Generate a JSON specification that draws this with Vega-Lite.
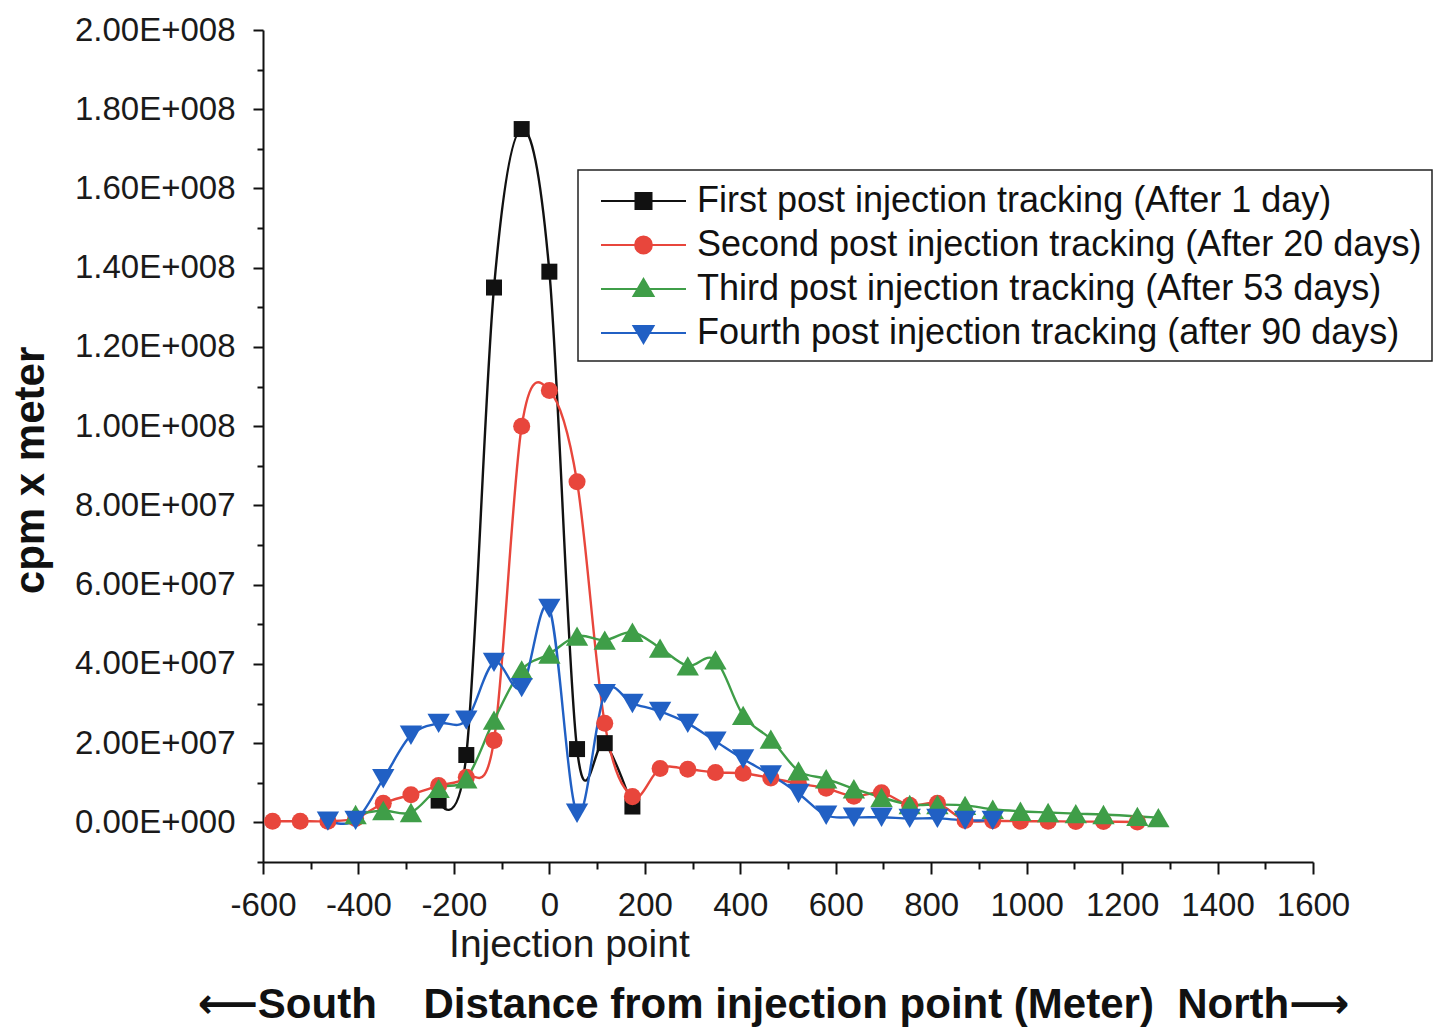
{
  "$schema": "https://vega.github.io/schema/vega-lite/v6.json",
  "width": 1050,
  "height": 832,
  "autosize": {"type": "none"},
  "padding": {"left": 263, "top": 30, "right": 127, "bottom": 169},
  "background": "white",
  "config": {
    "view": {"stroke": null},
    "font": "Liberation Sans",
    "axis": {"domainColor": "#111", "tickColor": "#111", "labelColor": "#1a1a1a", "grid": false, "domainWidth": 2, "tickWidth": 2, "labelFont": "Liberation Sans", "titleFont": "Liberation Sans, DejaVu Sans", "titleColor": "#111"}
  },
  "datasets": {
    "obs": [
      {"series": "First post injection tracking (After 1 day)", "d": -232, "v": 5500000},
      {"series": "First post injection tracking (After 1 day)", "d": -174, "v": 17000000},
      {"series": "First post injection tracking (After 1 day)", "d": -116, "v": 135000000},
      {"series": "First post injection tracking (After 1 day)", "d": -58, "v": 175000000},
      {"series": "First post injection tracking (After 1 day)", "d": 0, "v": 139000000},
      {"series": "First post injection tracking (After 1 day)", "d": 58, "v": 18500000},
      {"series": "First post injection tracking (After 1 day)", "d": 116, "v": 20000000},
      {"series": "First post injection tracking (After 1 day)", "d": 174, "v": 4000000},

      {"series": "Second post injection tracking (After 20 days)", "d": -580, "v": 300000},
      {"series": "Second post injection tracking (After 20 days)", "d": -522, "v": 300000},
      {"series": "Second post injection tracking (After 20 days)", "d": -464, "v": 300000},
      {"series": "Second post injection tracking (After 20 days)", "d": -406, "v": 1000000},
      {"series": "Second post injection tracking (After 20 days)", "d": -348, "v": 4800000},
      {"series": "Second post injection tracking (After 20 days)", "d": -290, "v": 7000000},
      {"series": "Second post injection tracking (After 20 days)", "d": -232, "v": 9300000},
      {"series": "Second post injection tracking (After 20 days)", "d": -174, "v": 11400000},
      {"series": "Second post injection tracking (After 20 days)", "d": -116, "v": 20700000},
      {"series": "Second post injection tracking (After 20 days)", "d": -58, "v": 100000000},
      {"series": "Second post injection tracking (After 20 days)", "d": 0, "v": 109000000},
      {"series": "Second post injection tracking (After 20 days)", "d": 58, "v": 86000000},
      {"series": "Second post injection tracking (After 20 days)", "d": 116, "v": 25000000},
      {"series": "Second post injection tracking (After 20 days)", "d": 174, "v": 6500000},
      {"series": "Second post injection tracking (After 20 days)", "d": 232, "v": 13600000},
      {"series": "Second post injection tracking (After 20 days)", "d": 290, "v": 13400000},
      {"series": "Second post injection tracking (After 20 days)", "d": 348, "v": 12600000},
      {"series": "Second post injection tracking (After 20 days)", "d": 406, "v": 12400000},
      {"series": "Second post injection tracking (After 20 days)", "d": 464, "v": 11200000},
      {"series": "Second post injection tracking (After 20 days)", "d": 522, "v": 9800000},
      {"series": "Second post injection tracking (After 20 days)", "d": 580, "v": 8600000},
      {"series": "Second post injection tracking (After 20 days)", "d": 638, "v": 6600000},
      {"series": "Second post injection tracking (After 20 days)", "d": 696, "v": 7500000},
      {"series": "Second post injection tracking (After 20 days)", "d": 755, "v": 4300000},
      {"series": "Second post injection tracking (After 20 days)", "d": 813, "v": 4800000},
      {"series": "Second post injection tracking (After 20 days)", "d": 871, "v": 500000},
      {"series": "Second post injection tracking (After 20 days)", "d": 929, "v": 400000},
      {"series": "Second post injection tracking (After 20 days)", "d": 987, "v": 300000},
      {"series": "Second post injection tracking (After 20 days)", "d": 1045, "v": 300000},
      {"series": "Second post injection tracking (After 20 days)", "d": 1103, "v": 200000},
      {"series": "Second post injection tracking (After 20 days)", "d": 1161, "v": 200000},
      {"series": "Second post injection tracking (After 20 days)", "d": 1232, "v": 100000},

      {"series": "Third post injection tracking (After 53 days)", "d": -406, "v": 2000000},
      {"series": "Third post injection tracking (After 53 days)", "d": -348, "v": 3000000},
      {"series": "Third post injection tracking (After 53 days)", "d": -290, "v": 2500000},
      {"series": "Third post injection tracking (After 53 days)", "d": -232, "v": 8600000},
      {"series": "Third post injection tracking (After 53 days)", "d": -174, "v": 11000000},
      {"series": "Third post injection tracking (After 53 days)", "d": -116, "v": 25800000},
      {"series": "Third post injection tracking (After 53 days)", "d": -58, "v": 38500000},
      {"series": "Third post injection tracking (After 53 days)", "d": 0, "v": 42500000},
      {"series": "Third post injection tracking (After 53 days)", "d": 58, "v": 47000000},
      {"series": "Third post injection tracking (After 53 days)", "d": 116, "v": 46000000},
      {"series": "Third post injection tracking (After 53 days)", "d": 174, "v": 48000000},
      {"series": "Third post injection tracking (After 53 days)", "d": 232, "v": 44000000},
      {"series": "Third post injection tracking (After 53 days)", "d": 290, "v": 39500000},
      {"series": "Third post injection tracking (After 53 days)", "d": 348, "v": 41000000},
      {"series": "Third post injection tracking (After 53 days)", "d": 406, "v": 27000000},
      {"series": "Third post injection tracking (After 53 days)", "d": 464, "v": 21000000},
      {"series": "Third post injection tracking (After 53 days)", "d": 522, "v": 13000000},
      {"series": "Third post injection tracking (After 53 days)", "d": 580, "v": 11000000},
      {"series": "Third post injection tracking (After 53 days)", "d": 638, "v": 8500000},
      {"series": "Third post injection tracking (After 53 days)", "d": 696, "v": 6300000},
      {"series": "Third post injection tracking (After 53 days)", "d": 755, "v": 4500000},
      {"series": "Third post injection tracking (After 53 days)", "d": 813, "v": 4500000},
      {"series": "Third post injection tracking (After 53 days)", "d": 871, "v": 4300000},
      {"series": "Third post injection tracking (After 53 days)", "d": 929, "v": 3300000},
      {"series": "Third post injection tracking (After 53 days)", "d": 987, "v": 2800000},
      {"series": "Third post injection tracking (After 53 days)", "d": 1045, "v": 2500000},
      {"series": "Third post injection tracking (After 53 days)", "d": 1103, "v": 2200000},
      {"series": "Third post injection tracking (After 53 days)", "d": 1161, "v": 2000000},
      {"series": "Third post injection tracking (After 53 days)", "d": 1232, "v": 1500000},
      {"series": "Third post injection tracking (After 53 days)", "d": 1276, "v": 1200000},

      {"series": "Fourth post injection tracking (after 90 days)", "d": -464, "v": 300000},
      {"series": "Fourth post injection tracking (after 90 days)", "d": -406, "v": 500000},
      {"series": "Fourth post injection tracking (after 90 days)", "d": -348, "v": 11000000},
      {"series": "Fourth post injection tracking (after 90 days)", "d": -290, "v": 22000000},
      {"series": "Fourth post injection tracking (after 90 days)", "d": -232, "v": 25000000},
      {"series": "Fourth post injection tracking (after 90 days)", "d": -174, "v": 25800000},
      {"series": "Fourth post injection tracking (after 90 days)", "d": -116, "v": 40400000},
      {"series": "Fourth post injection tracking (after 90 days)", "d": -58, "v": 34000000},
      {"series": "Fourth post injection tracking (after 90 days)", "d": 0, "v": 54000000},
      {"series": "Fourth post injection tracking (after 90 days)", "d": 58, "v": 2300000},
      {"series": "Fourth post injection tracking (after 90 days)", "d": 116, "v": 32500000},
      {"series": "Fourth post injection tracking (after 90 days)", "d": 174, "v": 30000000},
      {"series": "Fourth post injection tracking (after 90 days)", "d": 232, "v": 28000000},
      {"series": "Fourth post injection tracking (after 90 days)", "d": 290, "v": 25000000},
      {"series": "Fourth post injection tracking (after 90 days)", "d": 348, "v": 20500000},
      {"series": "Fourth post injection tracking (after 90 days)", "d": 406, "v": 16000000},
      {"series": "Fourth post injection tracking (after 90 days)", "d": 464, "v": 12000000},
      {"series": "Fourth post injection tracking (after 90 days)", "d": 522, "v": 7300000},
      {"series": "Fourth post injection tracking (after 90 days)", "d": 580, "v": 1800000},
      {"series": "Fourth post injection tracking (after 90 days)", "d": 638, "v": 1300000},
      {"series": "Fourth post injection tracking (after 90 days)", "d": 696, "v": 1300000},
      {"series": "Fourth post injection tracking (after 90 days)", "d": 755, "v": 1000000},
      {"series": "Fourth post injection tracking (after 90 days)", "d": 813, "v": 1000000},
      {"series": "Fourth post injection tracking (after 90 days)", "d": 871, "v": 500000},
      {"series": "Fourth post injection tracking (after 90 days)", "d": 929, "v": 500000}
    ]
  },
  "data": {"name": "obs"},
  "layer": [
    {
      "mark": {"type": "line", "interpolate": "cardinal", "strokeWidth": 2.4},
      "encoding": {
        "x": {"field": "d", "type": "quantitative", "scale": {"domain": [-600, 1600], "nice": false, "zero": false},
          "axis": {"orient": "bottom", "values": [-600, -400, -200, 0, 200, 400, 600, 800, 1000, 1200, 1400, 1600], "labelExpr": "datum.value + ''", "tickSize": 12, "labelFontSize": 33, "labelPadding": 15, "labelFlush": false,
            "title": "\u27f5South\u00a0\u00a0\u00a0\u00a0Distance from injection point (Meter)\u00a0\u00a0North\u27f6", "titleFontSize": 42, "titleFontWeight": "bold", "titleX": 510, "titleY": 122, "titleBaseline": "top"}},
        "y": {"field": "v", "type": "quantitative", "scale": {"domain": [-10000000, 200000000], "nice": false, "zero": false},
          "axis": {"orient": "left", "values": [0, 20000000, 40000000, 60000000, 80000000, 100000000, 120000000, 140000000, 160000000, 180000000, 200000000], "tickSize": 10, "labelFontSize": 33, "labelPadding": 18,
            "labelExpr": "datum.value == 0 ? '0.00E+000' : format(datum.value / pow(10, floor(log(datum.value)/LN10 + 1e-6)), '.2f') + 'E+00' + floor(log(datum.value)/LN10 + 1e-6)",
            "title": "cpm x meter", "titleFontSize": 42, "titleFontWeight": "bold", "titlePadding": 22, "titleY": 440}},
        "color": {"field": "series", "type": "nominal", "scale": {"domain": ["First post injection tracking (After 1 day)", "Second post injection tracking (After 20 days)", "Third post injection tracking (After 53 days)", "Fourth post injection tracking (after 90 days)"], "range": ["#111111", "#e8463c", "#3f9e48", "#2160c4"]},
          "legend": {"title": null, "orient": "none", "legendX": 315, "legendY": 140, "strokeColor": "#222", "fillColor": "white", "padding": 10,
            "labelFont": "Liberation Sans", "labelFontSize": 36, "labelColor": "#111", "labelLimit": 1200, "labelOffset": 67, "symbolSize": 1600, "rowPadding": 5,
            "encode": {
              "legend": {"update": {"strokeWidth": {"value": 1.5}}},
              "symbols": {"update": {
              "shape": {"signal": "indexof(datum.value,'First')==0 ? 'M-0.4,0H3.85M1.325,-0.4H2.125V0.4H1.325Z' : indexof(datum.value,'Second')==0 ? 'M-0.4,0H3.85M2.145,0A0.42,0.42,0,1,1,1.305,0A0.42,0.42,0,1,1,2.145,0Z' : indexof(datum.value,'Third')==0 ? 'M-0.4,0H3.85M1.725,-0.5L2.225,0.35L1.225,0.35Z' : 'M-0.4,0H3.85M1.725,0.5L2.225,-0.35L1.225,-0.35Z'"},
              "stroke": {"signal": "scale('color', datum.value)"},
              "fill": {"signal": "scale('color', datum.value)"},
              "strokeWidth": {"value": 2},
              "size": {"value": 1600},
              "opacity": {"value": 1}
            }}}}}
      }
    },
    {
      "transform": [{"filter": {"field": "series", "equal": "First post injection tracking (After 1 day)"}}],
      "mark": {"type": "point", "shape": "square", "filled": true, "opacity": 1, "size": 256, "color": "#111111"},
      "encoding": {
        "x": {"field": "d", "type": "quantitative", "axis": null},
        "y": {"field": "v", "type": "quantitative", "axis": null}
      }
    },
    {
      "transform": [{"filter": {"field": "series", "equal": "Second post injection tracking (After 20 days)"}}],
      "mark": {"type": "point", "shape": "circle", "filled": true, "opacity": 1, "size": 290, "color": "#e8463c"},
      "encoding": {
        "x": {"field": "d", "type": "quantitative", "axis": null},
        "y": {"field": "v", "type": "quantitative", "axis": null}
      }
    },
    {
      "transform": [{"filter": {"field": "series", "equal": "Third post injection tracking (After 53 days)"}}],
      "mark": {"type": "point", "shape": "triangle-up", "filled": true, "opacity": 1, "size": 500, "color": "#3f9e48"},
      "encoding": {
        "x": {"field": "d", "type": "quantitative", "axis": null},
        "y": {"field": "v", "type": "quantitative", "axis": null}
      }
    },
    {
      "transform": [{"filter": {"field": "series", "equal": "Fourth post injection tracking (after 90 days)"}}],
      "mark": {"type": "point", "shape": "triangle-down", "filled": true, "opacity": 1, "size": 500, "color": "#2160c4"},
      "encoding": {
        "x": {"field": "d", "type": "quantitative", "axis": null},
        "y": {"field": "v", "type": "quantitative", "axis": null}
      }
    },
    {
      "data": {"values": [{"label": "Injection point"}]},
      "mark": {"type": "text", "fontSize": 39, "font": "Liberation Sans", "color": "#1a1a1a", "baseline": "middle", "align": "center"},
      "encoding": {
        "x": {"datum": 42, "type": "quantitative",
          "axis": {"orient": "bottom", "values": [-500, -300, -100, 100, 300, 500, 700, 900, 1100, 1300, 1500], "tickSize": 7, "labels": false, "domain": false, "title": null}},
        "y": {"datum": -31000000, "type": "quantitative",
          "axis": {"orient": "left", "values": [-10000000, 10000000, 30000000, 50000000, 70000000, 90000000, 110000000, 130000000, 150000000, 170000000, 190000000], "tickSize": 6, "labels": false, "domain": false, "title": null}},
        "text": {"field": "label"}
      }
    }
  ],
  "resolve": {"axis": {"x": "independent", "y": "independent"}}
}
